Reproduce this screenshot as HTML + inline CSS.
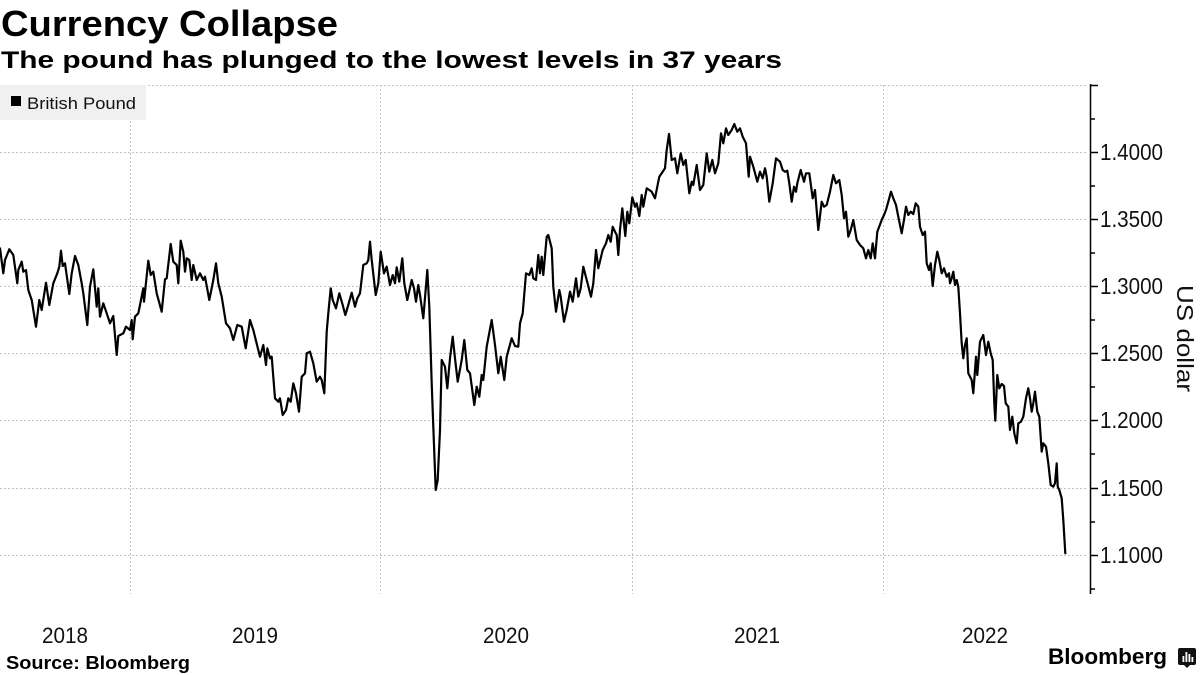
<!DOCTYPE html>
<html>
<head>
<meta charset="utf-8">
<style>
  html,body{margin:0;padding:0;background:#fff;}
  body{width:1200px;height:675px;overflow:hidden;}
  svg{display:block;}
</style>
</head>
<body>
<svg width="1200" height="675" viewBox="0 0 1200 675" xmlns="http://www.w3.org/2000/svg" font-family="'Liberation Sans', 'DejaVu Sans', sans-serif">
  <!-- Titles -->
  <text x="1" y="36" font-size="36" font-weight="bold" fill="#000" textLength="337" lengthAdjust="spacingAndGlyphs">Currency Collapse</text>
  <text x="1" y="68" font-size="24" font-weight="bold" fill="#000" textLength="781" lengthAdjust="spacingAndGlyphs">The pound has plunged to the lowest levels in 37 years</text>

  <!-- Gridlines -->
  <g stroke="#c4c4c4" stroke-width="1" stroke-dasharray="2,2" fill="none">
    <line x1="0" y1="85.5" x2="1086" y2="85.5"/>
    <line x1="0" y1="152.5" x2="1086" y2="152.5"/>
    <line x1="0" y1="219.5" x2="1086" y2="219.5"/>
    <line x1="0" y1="286.5" x2="1086" y2="286.5"/>
    <line x1="0" y1="353.5" x2="1086" y2="353.5"/>
    <line x1="0" y1="420.5" x2="1086" y2="420.5"/>
    <line x1="0" y1="488.5" x2="1086" y2="488.5"/>
    <line x1="0" y1="555.5" x2="1086" y2="555.5"/>
    <line x1="130.5" y1="85" x2="130.5" y2="594"/>
    <line x1="380.5" y1="85" x2="380.5" y2="594"/>
    <line x1="632.5" y1="85" x2="632.5" y2="594"/>
    <line x1="883.5" y1="85" x2="883.5" y2="594"/>
  </g>

  <!-- Legend -->
  <rect x="0" y="85" width="146" height="35" fill="#f0f0f0"/>
  <rect x="11" y="96" width="10" height="10" fill="#000"/>
  <text x="27" y="109" font-size="17" fill="#111" textLength="109" lengthAdjust="spacingAndGlyphs">British Pound</text>

  <!-- Axis -->
  <g stroke="#000" stroke-width="1.5" fill="none">
    <line x1="1090.5" y1="84" x2="1090.5" y2="594"/>
    <line x1="1090" y1="85.5" x2="1098" y2="85.5"/>
    <line x1="1090" y1="152.5" x2="1098" y2="152.5"/>
    <line x1="1090" y1="219.5" x2="1098" y2="219.5"/>
    <line x1="1090" y1="286.5" x2="1098" y2="286.5"/>
    <line x1="1090" y1="353.5" x2="1098" y2="353.5"/>
    <line x1="1090" y1="420.5" x2="1098" y2="420.5"/>
    <line x1="1090" y1="488.5" x2="1098" y2="488.5"/>
    <line x1="1090" y1="555.5" x2="1098" y2="555.5"/>
    <line x1="1090" y1="119" x2="1095" y2="119"/>
    <line x1="1090" y1="186" x2="1095" y2="186"/>
    <line x1="1090" y1="253" x2="1095" y2="253"/>
    <line x1="1090" y1="320" x2="1095" y2="320"/>
    <line x1="1090" y1="387" x2="1095" y2="387"/>
    <line x1="1090" y1="454" x2="1095" y2="454"/>
    <line x1="1090" y1="522" x2="1095" y2="522"/>
    <line x1="1090" y1="589" x2="1095" y2="589"/>
  </g>
  <g font-size="23" fill="#111">
    <text x="1100" y="160" textLength="63" lengthAdjust="spacingAndGlyphs">1.4000</text>
    <text x="1100" y="227" textLength="63" lengthAdjust="spacingAndGlyphs">1.3500</text>
    <text x="1100" y="294" textLength="63" lengthAdjust="spacingAndGlyphs">1.3000</text>
    <text x="1100" y="361" textLength="63" lengthAdjust="spacingAndGlyphs">1.2500</text>
    <text x="1100" y="428" textLength="63" lengthAdjust="spacingAndGlyphs">1.2000</text>
    <text x="1100" y="496" textLength="63" lengthAdjust="spacingAndGlyphs">1.1500</text>
    <text x="1100" y="563" textLength="63" lengthAdjust="spacingAndGlyphs">1.1000</text>
  </g>
  <text transform="translate(1177,285) rotate(90)" x="0" y="0" font-size="23" fill="#111" textLength="107" lengthAdjust="spacingAndGlyphs">US dollar</text>

  <!-- X labels -->
  <g font-size="22" fill="#111">
    <text x="42" y="643" textLength="46" lengthAdjust="spacingAndGlyphs">2018</text>
    <text x="232" y="643" textLength="46" lengthAdjust="spacingAndGlyphs">2019</text>
    <text x="483" y="643" textLength="46" lengthAdjust="spacingAndGlyphs">2020</text>
    <text x="734" y="643" textLength="46" lengthAdjust="spacingAndGlyphs">2021</text>
    <text x="962" y="643" textLength="46" lengthAdjust="spacingAndGlyphs">2022</text>
  </g>

  <!-- Series -->
  <polyline fill="none" stroke="#000" stroke-width="2.2" stroke-linejoin="round" stroke-linecap="round" points="
0,248.3 3.3,273.3 5,260 9.3,249.3 13.3,255 17.3,283.3 18.3,270 21.7,261.7 23.3,271.7 26,270 28.3,290 31.7,300 36,326.7 39.3,300 41.7,310 46,282.7 49.3,305 53.3,283.3 57.3,273.3 59.3,266.7 61,250.7 62.7,266 65,263.3 69.3,294 71.7,273.3 75,256 78.3,265 81.7,283.3 83.3,293.3 87.3,325 90,286.7 93.3,269.3 96.7,306.7 98.3,288.3 100,316.7 103.3,303.3 106.7,313.3 110,323.3 113.3,316 116.7,355 118.3,336 123.3,333.3 126,326.7 130,330 131.7,320 132.7,339.3 135,316.7 138.3,313.3 140,305 143.3,288.3 144,301.7 148.3,260.7 150.7,275 153.3,271.7 156.7,293.3 161.7,311.7 165,279.3 166.7,278.3 170.7,244 173.3,261.7 176.7,265 178.3,283.3 180.7,240.7 183.3,251.7 185,271.7 186.7,258.3 189.3,260 191.7,280 193.3,265 196.7,280 200,273.3 203.3,280 205,276.7 209.3,300 213.3,280 216,263.3 218.3,283.3 221.7,296.7 226,323.3 230,328.3 233.3,340 237.3,325 241.7,326.7 245.7,348.3 250,320 253.3,330 258.3,350
260,356.7 263.3,345 266,365 267.3,348.3 270,358.3 271.7,356.7 275,398.3 278.3,401.7 280,398.3 282.7,415 286,410 288.3,398.3 290.7,401.7 293.3,383.3 296,393.3 299,411.7 301.7,376.7 305,373.3 306.7,353.3 310,351.7 313.3,363.3 316.7,381.7 320,376.7 321.7,380 324.3,393.3 326.7,331.7 328.3,313.3 330.7,288.3 332.7,300 336,308.3 339.3,293.3 342.7,305 345.3,315 348.3,305 351.7,292.7 355,306.7 357.3,298.3 360,293.3 363.3,265 366.7,263.3 368.3,260 370,241.7 371.7,260 375.7,295 378.3,283.3 380.7,251.7 384,273.3 386.7,266.7 390,285 392.7,275 395,283.3 396.7,267.3 399.3,281.7 402.3,258.3 404.3,283.3 407.3,300 411.7,280 414,288.3 416,301.7 418.3,285 420,295 423.3,318.3 427.3,270 429.3,306.7 431.7,383.3 433.3,426.7 435.7,490 437.7,480 440,430 441.7,360 445,366.7 447.3,388.3 450,358.3 452.7,336.7 455,358.3 457.7,381.7 461.7,360 464.3,340 467.3,370 470,373.3 474.3,405 476.7,386.7 479.3,396.7 481.7,375 483.3,380 486.7,346.7 491.7,320 495,345 498.3,373.3 500.7,356.7 504.3,380 506.7,356.7 511.7,338.3 515,346 518.3,346.7
520,323.3 522.7,313.3 526,273.3 529.3,275 531.7,268.3 533.3,278.3 536,280 538.3,255 540,273.3 541.7,256.7 543.3,275 546.7,236.7 548.3,235 551.7,248.3 553.3,286.7 556,311.7 559.3,290 560.7,296.7 564,321.7 566.7,310 570,291.7 572.7,301.7 576,278.3 578.3,296.7 580.7,288.3 583.3,266.7 586.7,280 591,296.7 593.3,283.3 596,250 598.3,268.3 602.7,250 606,243.3 608.3,235 610.7,241.7 612.7,226.7 615,231.7 616.7,235 618.3,255 620,230 622.3,208.3 625.3,236 627.3,211.7 629.3,223.3 632.3,197.3 635,206.7 636.7,203.3 639.3,216 641.7,195 643.3,206.7 646.7,188.3 649.3,190 651.7,191.7 655,198.3 659.3,176.7 662.7,171.7 665,168.3 666.7,150 669,134 671.7,160 675,158.3 677.3,173.3 680.7,153.3 683.3,165 685.7,160 689.3,193.3 691.7,181.7 693.3,185 696.7,165 700,190 703.3,185 706.7,153.3 709.3,171.7 712.3,160 715,173.3 718.3,163.3 721,133.3 723.3,143.3 726,128.3 728.3,135 731.7,130 734.3,124 737.3,131.7 740,128.3 742.7,136.7 746,143.3 748.7,176.7 750,156.7 753.3,166.7 757.3,181.7 760,171.7 762.7,178.3 765,168.3 766.7,176.7 769.3,201.7 772.7,183.3 776,158.3
780,161.7 782.7,170 785,171.7 787.3,170.7 789.3,183.3 791.7,201.7 794,186.7 796,191.7 797.3,183.3 800.7,170 804,181.7 806,173.3 809.3,173.3 812.7,198.3 815,190 818.3,230 821.7,201.7 824,206.7 826.7,205 830,191.7 833.3,175 836,183.3 839.3,180 841.7,195 844,218.3 846,211.7 848.3,236.7 850.7,230 853.3,220 856.7,240 860,245 863.3,248.3 866,258.3 868.3,250 870.7,258.3 872.7,243.3 875,258.3 877.3,231.7 881.7,220 884,215 886,210 888.3,201.7 891,191.7 893.3,198.3 896,205 898.3,216.7 901.7,233.3 904,220 906,206.7 908.3,215 910.7,211.7 913.3,214 915.7,203.3 918.3,206.7 920,226.7 922.7,235 925,231.7 926.7,263.3 929,270 930.7,263.3 932.7,286 935,265 937.3,251.7 939.3,260 941.7,273.3 944,268.3 946.7,276.7 949,273.3
950,283.3 951.7,278.3 953.3,271.7 955,285 956.7,280 958.3,286.7 960,313.3 961.7,343.3 963.3,358.3 965,345 966.7,338.3 968.3,373.3 971.7,380 973.3,393.3 976,356.7 977.3,375 980,341.7 983.3,335 986,355 988.3,341.7 990.7,353.3 992.7,360 994.3,403.3 995.3,420.7 997.3,375 999.3,388.3 1001.7,384 1004,386 1005.7,403.3 1008.3,406.7 1010,430 1012.3,416.7 1014.3,433.3 1016.7,443.3 1018.3,423.3 1021,421.7 1023.3,416.7 1026,398.3 1028.3,388.3 1030,398.3 1031.7,411.7 1033.3,403.3 1035,391.7 1037.3,411.7 1039.3,416.7 1041.7,451.7 1043.3,443.3 1046,446.7 1048.3,463.3 1050.7,485 1053.3,486.7 1055,483.3 1056.7,463.3 1057.7,486.7 1059.3,490 1061.7,498.3 1063.3,520 1065.3,553.3"/>

  <!-- Footer -->
  <text x="6" y="669" font-size="18" font-weight="bold" fill="#000" textLength="184" lengthAdjust="spacingAndGlyphs">Source: Bloomberg</text>
  <text x="1048" y="664" font-size="22" font-weight="bold" fill="#000" textLength="119" lengthAdjust="spacingAndGlyphs">Bloomberg</text>
  <g>
    <path d="M1180,648 h14 a2,2 0 0 1 2,2 v13 a2,2 0 0 1 -2,2 h-4 l-3,3 l-3,-3 h-4 a2,2 0 0 1 -2,-2 v-13 a2,2 0 0 1 2,-2 z" fill="#111"/>
    <rect x="1182.5" y="656" width="1.8" height="6" fill="#fff"/>
    <rect x="1185.5" y="652" width="1.8" height="10" fill="#fff"/>
    <rect x="1188.5" y="654" width="1.8" height="8" fill="#fff"/>
    <rect x="1191.5" y="657" width="1.8" height="5" fill="#fff"/>
  </g>
</svg>
</body>
</html>
